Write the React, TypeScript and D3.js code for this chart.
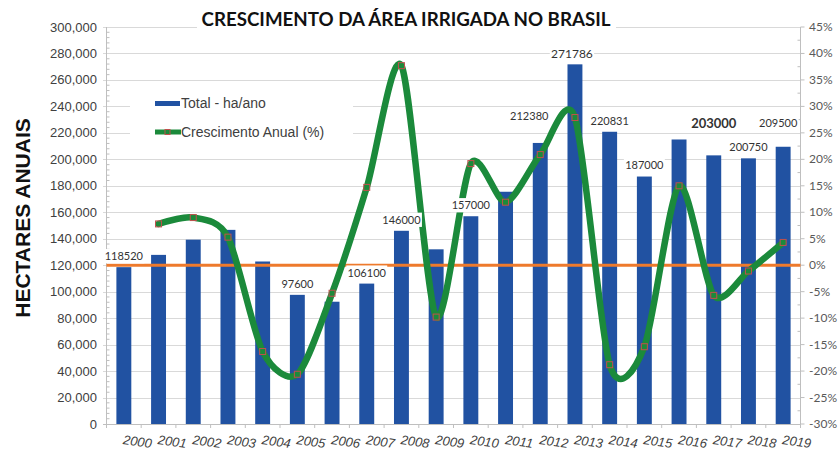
import React from 'react';
import * as d3 from 'd3';

const years = ['2000','2001','2002','2003','2004','2005','2006','2007','2008','2009','2010','2011','2012','2013','2014','2015','2016','2017','2018','2019'];
const totalHa = [118520, 127800, 139300, 146700, 122800, 97600, 92400, 106100, 146000, 132000, 157000, 175500, 212380, 271786, 220831, 187000, 215000, 203000, 200750, 209500];
const growthPct: (number | null)[] = [null, 7.8, 9.0, 5.3, -16.3, -20.6, -5.3, 14.7, 37.7, -9.8, 19.2, 11.9, 20.9, 27.9, -18.8, -15.4, 15.0, -5.7, -1.1, 4.3];
const labeledYears = ['2000','2005','2007','2008','2010','2012','2013','2014','2015','2017','2018','2019'];
const leftTicks = [0, 20000, 40000, 60000, 80000, 100000, 120000, 140000, 160000, 180000, 200000, 220000, 240000, 260000, 280000, 300000];
const rightTicks = [-30, -25, -20, -15, -10, -5, 0, 5, 10, 15, 20, 25, 30, 35, 40, 45];
const titleText = 'CRESCIMENTO DA ÁREA IRRIGADA NO BRASIL';
const yTitle = 'HECTARES ANUAIS';
const legendBars = 'Total - ha/ano';
const legendLine = 'Crescimento Anual (%)';

// manual label nudges (layout only)
const labelNudge: Record<string, [number, number, number, boolean]> = {
  '2012': [-11, -16, 11, false],
  '2013': [-3, 0, 12, false],
  '2017': [0, -21, 13, true],
  '2019': [-5, -13, 11, false],
};

const W = 838, H = 453;
const left = 106.5, right = 800.5, top = 27, bottom = 424;
const BLUE = '#2152a2';
const GREEN = '#1b8a3b';
const ORANGE = '#ee7a2c';
const GRID = '#d9d9d9';
const AXIS = '#bfbfbf';
const TXT = '#404040';

export default function App() {
  const x = d3.scaleBand<string>().domain(years).range([left, right]).paddingInner(0.57).paddingOuter(0.285);
  const yL = d3.scaleLinear().domain([0, 300000]).range([bottom, top]);
  const yR = d3.scaleLinear().domain([-30, 45]).range([bottom, top]);
  const step = x.step();
  const cx = (yr: string) => (x(yr) as number) + x.bandwidth() / 2;

  const pts = years.map((yr, i) => ({ yr, v: growthPct[i] })).filter(d => d.v !== null) as { yr: string; v: number }[];
  const line = d3.line<{ yr: string; v: number }>()
    .x(d => cx(d.yr))
    .y(d => yR(d.v))
    .curve(d3.curveCardinal.tension(0.2));

  const leftMinor = d3.range(0, 300001, 4000).filter(v => v % 20000 !== 0);
  const rightMinor = d3.range(-30, 45, 2.5).filter(v => v % 5 !== 0);

  return (
    <svg width={W} height={H} style={{ position: 'fixed', left: 0, top: 0, background: '#fff' }}>
      <rect x={0} y={0} width={W} height={H} fill="#fff" />
      {/* gridlines */}
      {leftTicks.map(t => (
        <line key={'g' + t} x1={103} x2={right} y1={Math.round(yL(t)) + 0.5} y2={Math.round(yL(t)) + 0.5} stroke={GRID} strokeWidth={1.2} />
      ))}
      {/* title background */}
      <rect x={197} y={8} width={419} height={26} fill="#fff" />
      <text x={406} y={26} textAnchor="middle" fontFamily="Lato, 'Open Sans', sans-serif" fontWeight={700} fontSize={19} fill="#111" textLength={409} lengthAdjust="spacingAndGlyphs">{titleText}</text>
      {/* legend background */}
      <rect x={130} y={90} width={223} height={58} fill="#fff" />
      <rect x={155} y={101} width={25} height={5} fill={BLUE} />
      <text x={181} y={108} fontFamily="'Liberation Sans', Arial, sans-serif" fontSize={14} fill={TXT}>{legendBars}</text>
      <line x1={155} x2={181} y1={132} y2={132} stroke={GREEN} strokeWidth={5} />
      <rect x={165} y={129.5} width={5} height={5} fill="none" stroke="#c0504d" strokeWidth={1} />
      <text x={181} y={137} fontFamily="'Liberation Sans', Arial, sans-serif" fontSize={14} fill={TXT}>{legendLine}</text>
      {/* axes */}
      <line x1={left} x2={left} y1={top} y2={bottom} stroke={AXIS} />
      <line x1={right} x2={right} y1={top} y2={bottom} stroke={AXIS} />
      <line x1={103} x2={right} y1={bottom + 0.5} y2={bottom + 0.5} stroke={AXIS} />
      {leftMinor.map(v => (
        <line key={'lm' + v} x1={left} x2={left + 3} y1={yL(v)} y2={yL(v)} stroke={AXIS} />
      ))}
      {rightMinor.map(v => (
        <line key={'rm' + v} x1={right - 3} x2={right} y1={yR(v)} y2={yR(v)} stroke={AXIS} />
      ))}
      {rightTicks.map(t => (
        <line key={'rt' + t} x1={right} x2={right + 4} y1={yR(t)} y2={yR(t)} stroke={AXIS} />
      ))}
      {d3.range(0, years.length + 1).map(i => (
        <line key={'xt' + i} x1={left + i * step} x2={left + i * step} y1={bottom} y2={bottom + 4} stroke={AXIS} />
      ))}
      {/* tick labels */}
      {leftTicks.map(t => (
        <text key={'lt' + t} x={97} y={yL(t) + 4.5} textAnchor="end" fontFamily="'Liberation Sans', Arial, sans-serif" fontSize={13} fill={TXT}>{d3.format(',')(t)}</text>
      ))}
      {rightTicks.map(t => (
        <text key={'rl' + t} x={809} y={yR(t) + 4} textAnchor="start" fontFamily="Lato, sans-serif" fontSize={12} fill="#595959">{t + '%'}</text>
      ))}
      {years.map(yr => (
        <text key={'xl' + yr} transform={`translate(${cx(yr) + 13},${446}) rotate(8)`} textAnchor="middle" fontFamily="'Liberation Sans', Arial, sans-serif" fontStyle="italic" fontSize={13} fill={TXT}>{yr}</text>
      ))}
      <text transform={`translate(30,${218}) rotate(-90)`} textAnchor="middle" fontFamily="'Liberation Sans', Arial, sans-serif" fontWeight="bold" fontSize={21} fill="#111">{yTitle}</text>
      {/* bars */}
      {years.map((yr, i) => (
        <rect key={'b' + yr} x={x(yr)} y={yL(totalHa[i])} width={x.bandwidth()} height={bottom - yL(totalHa[i])} fill={BLUE} />
      ))}
      {/* zero line */}
      <line x1={left} x2={right} y1={yR(0)} y2={yR(0)} stroke={ORANGE} strokeWidth={3} />
      {/* growth line */}
      <path d={line(pts) || ''} fill="none" stroke={GREEN} strokeWidth={6.5} strokeLinecap="round" strokeLinejoin="round" />
      {pts.map(d => (
        <rect key={'m' + d.yr} x={cx(d.yr) - 3} y={yR(d.v) - 3} width={6} height={6} fill="none" stroke="#c0504d" strokeWidth={1} />
      ))}
      {/* data labels */}
      {labeledYears.map(yr => {
        const i = years.indexOf(yr);
        const nudge = labelNudge[yr] || [0, 0, 11, false];
        const fs = nudge[2];
        const w = 6 * fs * 0.56 + 4;
        const lx = cx(yr) + nudge[0];
        const ly = yL(totalHa[i]) - 11 + nudge[1];
        return (
          <g key={'dl' + yr}>
            <rect x={lx - w / 2} y={ly - fs * 0.65} width={w} height={fs * 1.3} fill="#fff" />
            <text x={lx} y={ly + fs * 0.36} textAnchor="middle" fontFamily="Lato, sans-serif" fontWeight={nudge[3] ? 700 : 400} fontSize={fs} fill="#333">{String(totalHa[i])}</text>
          </g>
        );
      })}
    </svg>
  );
}
